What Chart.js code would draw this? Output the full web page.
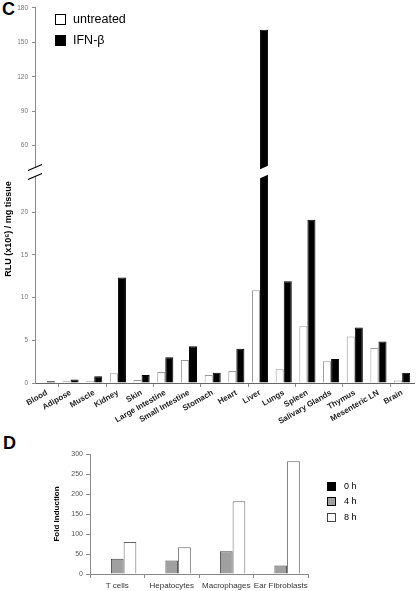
<!DOCTYPE html>
<html>
<head>
<meta charset="utf-8">
<script src="https://cdn.jsdelivr.net/npm/chart.js@4/dist/chart.umd.min.js"></script>
<style>
  body { margin: 0; width: 416px; height: 591px; position: relative; overflow: hidden; background: #fff;
         font-family: "Liberation Sans", Arial, sans-serif; }
  canvas, .abs { position: absolute; }
  .panel { font-weight: bold; font-size: 18px; color: #000; }
  .ytitle { font-weight: bold; font-size: 9px; white-space: nowrap; transform: rotate(-90deg); transform-origin: center; }
  .key { position: absolute; display: flex; align-items: center; color: #000; }
  .key i { display: inline-block; box-sizing: border-box; border: 1px solid #000; }
</style>
</head>
<body>

<div class="abs panel" style="left:2px; top:-1px">C</div>
<div class="abs panel" style="left:3px; top:433px">D</div>

<canvas id="tissueTop" width="416" height="180" style="left:0; top:0"></canvas>
<canvas id="tissueBottom" width="416" height="293" style="left:0; top:150px"></canvas>
<canvas id="cellsChart" width="264" height="151" style="left:48px; top:440px"></canvas>

<div class="abs ytitle" style="left:-47px; top:224px; width:110px; text-align:center">RLU (x10⁶) / mg tissue</div>

<div class="key" style="left:55px; top:12px; font-size:12.5px"><i style="width:11px;height:11px;background:#fff;margin-right:7px"></i>untreated</div>
<div class="key" style="left:55px; top:33px; font-size:12.5px"><i style="width:11px;height:11px;background:#000;margin-right:7px"></i>IFN-β</div>

<div class="key" style="left:327px; top:481px; font-size:9px"><i style="width:9px;height:9px;background:#000;margin-right:8px"></i>0 h</div>
<div class="key" style="left:327px; top:496px; font-size:9px"><i style="width:9px;height:9px;background:#a0a0a0;margin-right:8px"></i>4 h</div>
<div class="key" style="left:327px; top:512px; font-size:9px"><i style="width:9px;height:9px;background:#fff;border-color:#444;margin-right:8px"></i>8 h</div>

<script>
// panel C
const tissues = ["Blood", "Adipose", "Muscle", "Kidney", "Skin", "Large Intestine", "Small Intestine",
  "Stomach", "Heart", "Liver", "Lungs", "Spleen", "Salivary Glands", "Thymus", "Mesenteric LN", "Brain"];
const untreated = [0.05, 0.2, 0.2, 1.15, 0.35, 1.3, 2.7, 0.95, 1.4, 10.85, 1.6, 6.65, 2.55, 5.45, 4.1, 0.3];
const ifnBeta = [0.2, 0.4, 0.8, 12.35, 0.95, 3.0, 4.3, 1.2, 4.0, 161, 11.9, 19.1, 2.8, 6.5, 4.85, 1.2];
const topTicks = [60, 90, 120, 150, 180];
const bottomTicks = [0, 5, 10, 15, 20];

// panel D
const cellTypes = ["T cells", "Hepatocytes", "Macrophages", "Ear Fibroblasts"];
const hours0 = [1, 1, 1, 1];
const hours4 = [38, 34, 57, 21];
const hours8 = [80, 67, 182, 282];
const foldTicks = [0, 50, 100, 150, 200, 250, 300];

Chart.defaults.font.family = '"Liberation Sans", Arial, sans-serif';

const axisGray = "#8a8a8a";

function tissueSets() {
  return [
    { label: "untreated", data: untreated, backgroundColor: "#fff", borderColor: "#999", borderWidth: 1, clip: 0 },
    { label: "IFN-β", data: ifnBeta, backgroundColor: "#000", borderColor: "#000", borderWidth: 1, clip: 0 }
  ];
}

function yAxis(min, max, tickValues) {
  return {
    min: min, max: max, bounds: "data",
    afterBuildTicks(s) { s.ticks = tickValues.map(v => ({ value: v })); },
    ticks: { font: { size: 6.5 }, color: "#777", padding: 4 },
    grid: { drawOnChartArea: false, tickLength: 3, color: axisGray },
    border: { color: axisGray },
    afterFit(s) { s.width = 35; }
  };
}

// white cut + slashes where the axis is broken
const axisBreak = {
  id: "axisBreak",
  afterDraw(chart) {
    const { ctx, chartArea } = chart;
    const y0 = chartArea.top;
    const liver = chart.getDatasetMeta(1).data[tissues.indexOf("Liver")];

    const cut = (x1, x2, slashes) => {
      const xc = (x1 + x2) / 2;
      const yAt = (x, off) => y0 + off - 0.43 * (x - xc);
      ctx.save();
      ctx.fillStyle = "#fff";
      ctx.beginPath();
      ctx.moveTo(x1, yAt(x1, -4.5));
      ctx.lineTo(x2, yAt(x2, -4.5));
      ctx.lineTo(x2, yAt(x2, 4.5));
      ctx.lineTo(x1, yAt(x1, 4.5));
      ctx.closePath();
      ctx.fill();
      if (slashes) {
        ctx.strokeStyle = "#000";
        ctx.lineWidth = 1.3;
        ctx.beginPath();
        ctx.moveTo(x1, yAt(x1, -4.5));
        ctx.lineTo(x2, yAt(x2, -4.5));
        ctx.moveTo(x1, yAt(x1, 4.5));
        ctx.lineTo(x2, yAt(x2, 4.5));
        ctx.stroke();
      }
      ctx.restore();
    };

    cut(chartArea.left - 7, chartArea.left + 7, true);
    cut(liver.x - liver.width / 2 - 1, liver.x + liver.width / 2 + 1, false);
  }
};

const barOpts = { categoryPercentage: 0.68, barPercentage: 1 };

new Chart(document.getElementById("tissueTop"), {
  type: "bar",
  data: { labels: tissues, datasets: tissueSets() },
  options: {
    responsive: false,
    animation: false,
    layout: { padding: { top: 5, bottom: 8, right: 2, left: 0 } },
    plugins: { legend: { display: false }, tooltip: { enabled: false } },
    datasets: { bar: barOpts },
    scales: {
      x: { display: false },
      y: yAxis(37, 180, topTicks)
    }
  }
});

new Chart(document.getElementById("tissueBottom"), {
  type: "bar",
  data: { labels: tissues, datasets: tissueSets() },
  options: {
    responsive: false,
    animation: false,
    layout: { padding: { top: 22, bottom: 0, right: 2, left: 0 } },
    plugins: { legend: { display: false }, tooltip: { enabled: false } },
    datasets: { bar: barOpts },
    scales: {
      x: {
        ticks: { autoSkip: false, minRotation: 30, maxRotation: 30, font: { size: 8, weight: "bold" }, color: "#222", padding: 1 },
        grid: { offset: true, drawOnChartArea: false, tickLength: 4,
                color: ctx => ctx.index % 2 === 1 ? axisGray : "rgba(0,0,0,0)" },
        border: { color: "#666" },
        afterFit(s) { s.height = 60; }
      },
      y: yAxis(0, 24.7, bottomTicks)
    }
  },
  plugins: [axisBreak]
});

new Chart(document.getElementById("cellsChart"), {
  type: "bar",
  data: {
    labels: cellTypes,
    datasets: [
      { label: "0 h", data: hours0, backgroundColor: "#000", borderColor: "#000", borderWidth: 1 },
      { label: "4 h", data: hours4, backgroundColor: "#a0a0a0", borderColor: "#444", borderWidth: 1 },
      { label: "8 h", data: hours8, backgroundColor: "#fff", borderColor: "#666", borderWidth: 1 }
    ]
  },
  options: {
    responsive: false,
    animation: false,
    layout: { padding: { top: 14, right: 4, left: 0, bottom: 0 } },
    plugins: { legend: { display: false }, tooltip: { enabled: false } },
    datasets: { bar: { categoryPercentage: 0.7, barPercentage: 1 } },
    scales: {
      x: {
        ticks: { autoSkip: false, font: { size: 8 }, color: "#333", padding: 3, maxRotation: 0 },
        grid: { offset: true, drawOnChartArea: false, tickLength: 4, color: axisGray },
        border: { color: axisGray },
        afterFit(s) { s.height = 17; }
      },
      y: {
        min: 0, max: 300,
        afterBuildTicks(s) { s.ticks = foldTicks.map(v => ({ value: v })); },
        ticks: { font: { size: 7 }, color: "#555", padding: 3 },
        grid: { drawOnChartArea: false, tickLength: 4, color: axisGray },
        border: { color: axisGray },
        title: { display: true, text: "Fold Induction", font: { size: 8, weight: "bold" }, color: "#000" },
        afterFit(s) { s.width = 42; }
      }
    }
  }
});
</script>
</body>
</html>
